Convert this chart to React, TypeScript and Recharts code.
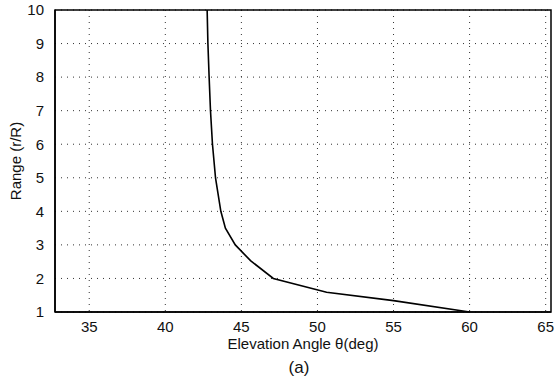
import React from "react";
import {
  CartesianGrid,
  Line,
  LineChart,
  ReferenceArea,
  XAxis,
  YAxis,
} from "recharts";

// elevation angle (deg) vs normalised range
const theta = [42.75, 42.8, 42.88, 42.97, 43.1, 43.3, 43.65, 43.95, 44.6, 45.6, 47.1, 50.6, 55, 60];
const range = [10, 9, 8, 7, 6, 5, 4, 3.5, 3, 2.53, 2, 1.59, 1.34, 1.0];

const xTicks = [35, 40, 45, 50, 55, 60, 65];
const yTicks = [1, 2, 3, 4, 5, 6, 7, 8, 9, 10];
const xDomain = [32.75, 65.35];

const data = theta.map((t, i) => ({ theta: t, r: range[i] }));

const font = "'Liberation Sans', Arial, sans-serif";

function YLabel({ viewBox }: any) {
  const cy = viewBox.y + viewBox.height / 2;
  return (
    <text
      x={15}
      y={cy}
      transform={`rotate(-90, 15, ${cy})`}
      textAnchor="middle"
      dominantBaseline="central"
      fontSize={15}
      fill="#111"
      fontFamily={font}
    >
      Range (r/R)
    </text>
  );
}

export default function App() {
  return (
    <div
      style={{
        position: "absolute",
        left: 0,
        top: 0,
        width: 555,
        height: 382,
        background: "#fff",
        fontFamily: font,
      }}
    >
      <LineChart
        width={555}
        height={382}
        data={data}
        margin={{ top: 10, right: 4, bottom: 40, left: 0 }}
      >
        <CartesianGrid
          stroke="#333"
          strokeDasharray="1 5"
          horizontalValues={yTicks}
          verticalValues={xTicks}
        />
        <XAxis
          type="number"
          dataKey="theta"
          domain={xDomain}
          ticks={xTicks}
          allowDataOverflow
          height={30}
          tickLine={false}
          axisLine={{ stroke: "#000", strokeWidth: 1.5 }}
          tick={{ fontSize: 15, fill: "#111", fontFamily: font }}
          tickMargin={3}
          label={{
            value: "Elevation Angle θ(deg)",
            position: "insideBottom",
            offset: -7,
            fontSize: 15,
            fill: "#111",
            fontFamily: font,
          }}
        />
        <YAxis
          type="number"
          dataKey="r"
          domain={[1, 10]}
          ticks={yTicks}
          width={55}
          tickLine={false}
          axisLine={{ stroke: "#000", strokeWidth: 1.5 }}
          tick={{ fontSize: 15, fill: "#111", fontFamily: font }}
          tickMargin={5}
          label={<YLabel />}
        />
        <ReferenceArea
          x1={xDomain[0]}
          x2={xDomain[1]}
          y1={1}
          y2={10}
          fill="none"
          stroke="#000"
          strokeWidth={1.5}
        />
        <Line
          type="linear"
          dataKey="r"
          stroke="#000"
          strokeWidth={1.6}
          dot={false}
          isAnimationActive={false}
        />
      </LineChart>
      <div
        style={{
          position: "absolute",
          left: 0,
          width: 598,
          top: 358,
          textAlign: "center",
          fontSize: 17,
          lineHeight: "20px",
          color: "#111",
        }}
      >
        (a)
      </div>
    </div>
  );
}
